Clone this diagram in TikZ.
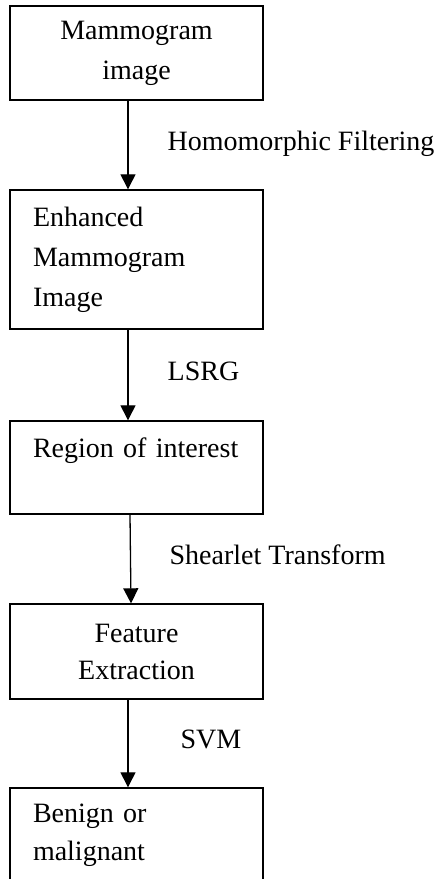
\documentclass[tikz,border=0pt]{standalone}
\usepackage{fontspec}
\setmainfont{Liberation Serif}
\usetikzlibrary{arrows.meta}
\usetikzlibrary{calc}
\usetikzlibrary{positioning}

\begin{document}
\begin{tikzpicture}[x=1pt, y=-1pt]
  \pgfmathsetmacro{\XC}{136.5}
  \pgfmathsetmacro{\XA}{-8.5}
\tikzset{
  stage/.style={draw, rectangle, line width=1.4pt, minimum width=253pt,
    text width=207pt, inner xsep=23pt, inner ysep=0pt, align=center},
  lstage/.style={stage, align=left},
  lbl/.style={inner sep=0pt, anchor=base west, yshift=-5pt},
}
%
\tikzset{>={Triangle[width=15pt, length=15pt]},
  every node/.style={font=\fontsize{28pt}{40pt}\selectfont}}

       \useasboundingbox (0,0) rectangle (438,879);

       \node [stage, minimum height=94pt] (mi) at (\XC, 53)
       {Mammogram\\image};

       \node [lstage, minimum height=139pt] (emi) at (\XC, 259.5)
       {Enhanced\\Mammogram\\Image};

       \node [lstage, minimum height=93pt] (roi) at (\XC, 467.5)
       {Region of interest\\ \mbox{}};

       \node [stage, minimum height=95pt] (fe) at (\XC, 651.5)
       {Feature\\[-3pt]Extraction};

       \node [lstage, minimum height=94pt] (bm) at (\XC, 835)
       {Benign or\\[-2pt]malignant};

       \draw[->, line width=1.3pt] ([xshift=\XA pt]mi.south) --
       ([xshift=\XA pt]emi.north) node [lbl, midway, xshift=39pt]
       {Homomorphic Filtering};
       \draw[->, line width=1.3pt] ([xshift=\XA pt]emi.south) --
       ([xshift=\XA pt]roi.north) node [lbl, midway, xshift=39pt] {LSRG};
       \draw[->, line width=1.3pt] ([xshift=-6.5pt]roi.south) --
       ([xshift=-5.5pt]fe.north) node [lbl, midway, xshift=38.5pt]
       {Shearlet Transform};
       \draw[->, line width=1.3pt] ([xshift=\XA pt]fe.south) --
       ([xshift=\XA pt]bm.north) node [lbl, midway, xshift=52pt] {SVM};

\end{tikzpicture}
\end{document}
